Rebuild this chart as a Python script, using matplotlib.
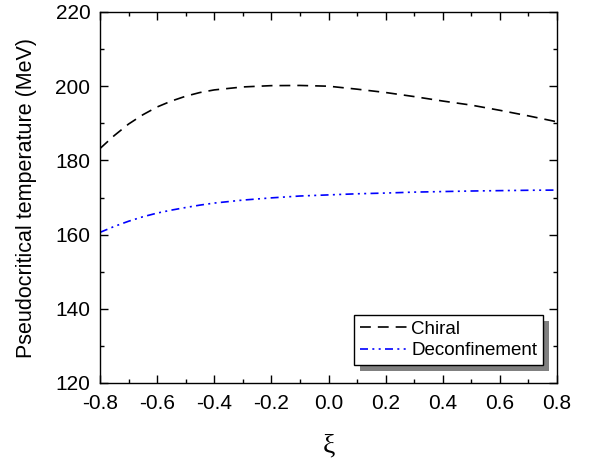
import matplotlib
matplotlib.use("Agg")
import matplotlib.pyplot as plt
from matplotlib.patches import Rectangle
from matplotlib.ticker import MultipleLocator, FormatStrFormatter

plt.rcParams["font.family"] = ["Liberation Sans", "DejaVu Sans"]

# values
xi = [-0.8, -0.75, -0.7, -0.65, -0.6, -0.55, -0.5, -0.45, -0.4, -0.3, -0.2, -0.1,
      0.0, 0.1, 0.2, 0.3, 0.4, 0.5, 0.6, 0.7, 0.8]
t_chiral = [183.2, 186.7, 189.8, 192.3, 194.4, 196.0, 197.3, 198.3, 199.0, 199.8,
            200.15, 200.2, 200.0, 199.2, 198.3, 197.2, 196.0, 194.9, 193.5, 192.0, 190.4]
t_deconf = [160.6, 162.2, 163.6, 164.8, 165.8, 166.6, 167.3, 167.95, 168.5, 169.3,
            169.9, 170.4, 170.7, 171.0, 171.2, 171.45, 171.6, 171.75, 171.85, 171.95, 172.0]

fig = plt.figure(figsize=(5.92, 4.59), dpi=100)
ax = fig.add_axes([100 / 592, 1 - 383 / 459, 457 / 592, 371 / 459])

ax.plot(xi, t_chiral, color="black", linestyle=(0, (6.5, 4.2)), linewidth=1.2, label="Chiral")
ax.plot(xi, t_deconf, color="blue", linestyle=(0, (4.8, 2.6, 1.2, 2.6, 1.2, 2.6)),
        linewidth=1.2, label="Deconfinement")

ax.set_xlim(-0.8, 0.8)
ax.set_ylim(120, 220)
ax.xaxis.set_major_locator(MultipleLocator(0.2))
ax.xaxis.set_minor_locator(MultipleLocator(0.1))
ax.xaxis.set_major_formatter(FormatStrFormatter("%.1f"))
ax.yaxis.set_major_locator(MultipleLocator(20))
ax.yaxis.set_minor_locator(MultipleLocator(10))
ax.tick_params(which="both", direction="in", top=True, right=True, labelsize=15, width=1.0)
ax.tick_params(axis="y", which="major", length=6, pad=7)
ax.tick_params(axis="x", which="major", length=6, pad=8)
ax.tick_params(which="minor", length=3)
for sp in ax.spines.values():
    sp.set_linewidth(1.0)

ax.set_ylabel("Pseudocritical temperature (MeV)", fontsize=15.5, labelpad=13)
ax.set_xlabel("ξ", fontsize=20, family=["Liberation Serif", "DejaVu Serif"], labelpad=15)

# legend with a gray drop shadow
leg = ax.legend(loc="lower right", bbox_to_anchor=(0.969, 0.0485), fontsize=13.5,
                frameon=True, fancybox=False, framealpha=1.0, handlelength=2.6,
                handletextpad=0.15, borderpad=0.3, labelspacing=0.25, borderaxespad=0)
leg.get_frame().set_edgecolor("black")
leg.get_frame().set_linewidth(1.0)
leg.set_zorder(5)
fig.canvas.draw()
bb = leg.get_window_extent().transformed(fig.transFigure.inverted())
shadow = Rectangle((bb.x0 + 6 / 592, bb.y0 - 6 / 459), bb.width, bb.height,
                   transform=fig.transFigure, facecolor="gray", edgecolor="none",
                   zorder=4.5, clip_on=False)
ax.add_patch(shadow)

fig.savefig("out.png", dpi=100)
